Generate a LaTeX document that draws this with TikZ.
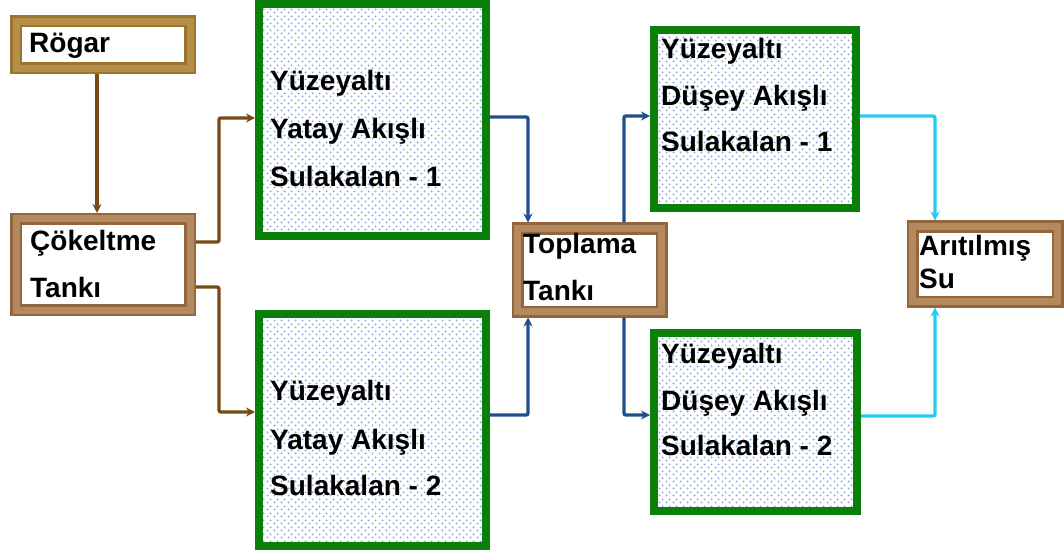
\documentclass[tikz,border=0pt]{standalone}
\usepackage{fontspec}
\setmainfont{Liberation Sans}
\usetikzlibrary{arrows.meta,patterns.meta}
\definecolor{goldb}{HTML}{B58E48}
\definecolor{goldd}{HTML}{9C7430}
\definecolor{tanb}{HTML}{B4895C}
\definecolor{tand}{HTML}{946640}
\definecolor{grn}{HTML}{0A800A}
\definecolor{dotc}{HTML}{86A8DA}
\definecolor{brc}{HTML}{7A4A14}
\definecolor{blc}{HTML}{1F4E8A}
\definecolor{cyc}{HTML}{22CCF5}
\tikzdeclarepattern{
  name=wdots,
  type=uncolored,
  bounding box={(0,0) and (7pt,7pt)},
  tile size={(7pt,7pt)},
  code={
    \pgfpathcircle{\pgfpoint{1.75pt}{1.75pt}}{1.15pt}
    \pgfpathcircle{\pgfpoint{5.25pt}{5.25pt}}{1.15pt}
    \pgfusepath{fill}
  }
}
\begin{document}
\begin{tikzpicture}[x=1pt,y=-1pt,
  brbox/.style={draw=tand, double=tanb, line width=2.5pt, double distance=7pt,
    fill=white, rectangle, inner sep=0pt, outer sep=6pt},
  gdbox/.style={brbox, draw=goldd, double=goldb},
  gnbox/.style={draw=grn, line width=8pt, preaction={fill=white}, pattern={wdots}, pattern color=dotc,
    rectangle, inner sep=0pt, outer sep=4pt},
  txt/.style={font=\bfseries\fontsize{28}{30}\selectfont, anchor=base west, inner sep=0pt},
  conn/.style={line width=3.4pt, rounded corners=2pt, -{Stealth[length=9pt,width=9pt]}},
  brc/.style={conn, draw=brc},
  blc/.style={conn, draw=blc},
  cyc/.style={conn, draw=cyc}]
\useasboundingbox (0,0) rectangle (1064,553);

% boxes
\node[gdbox, minimum width=174pt, minimum height=47pt] (rogar) at (103,45) {};
\node[brbox, minimum width=174pt, minimum height=91pt] (cokelt) at (103,264.5) {};
\node[brbox, minimum width=144pt, minimum height=83pt] (toplama) at (589.5,270) {};
\node[brbox, minimum width=145pt, minimum height=75pt] (arit) at (985,264) {};
\node[gnbox, minimum width=227pt, minimum height=231pt] (yat1) at (372.5,120) {};
\node[gnbox, minimum width=227pt, minimum height=232pt] (yat2) at (372.5,430) {};
\node[gnbox, minimum width=202pt, minimum height=178pt] (dus1) at (755,119) {};
\node[gnbox, minimum width=203pt, minimum height=178pt] (dus2) at (755.5,422) {};

% texts
\node[txt] (trogar) at (29,53) {Rögar};
\node[txt] (tcok1) at (30,250) {Çökeltme};
\node[txt] (tcok2) at (30,297) {Tankı};
\node[txt] (ttop1) at (523,253) {Toplama};
\node[txt] (ttop2) at (523,300) {Tankı};
\node[txt] (tar1) at (919,255) {Arıtılmış};
\node[txt] (tar2) at (919,288) {Su};
\node[txt] (ty11) at (270,91) {Yüzeyaltı};
\node[txt] (ty12) at (270,139) {Yatay Akışlı};
\node[txt] (ty13) at (270,187) {Sulakalan - 1};
\node[txt] (ty21) at (270,400) {Yüzeyaltı};
\node[txt] (ty22) at (270,449) {Yatay Akışlı};
\node[txt] (ty23) at (270,495) {Sulakalan - 2};
\node[txt] (td11) at (661,59) {Yüzeyaltı};
\node[txt] (td12) at (661,106) {Düşey Akışlı};
\node[txt] (td13) at (661,152) {Sulakalan - 1};
\node[txt] (td21) at (661,363) {Yüzeyaltı};
\node[txt] (td22) at (661,410) {Düşey Akışlı};
\node[txt] (td23) at (661,455) {Sulakalan - 2};

% bend points
\coordinate (b0) at (97,0);
\coordinate (b1) at (219,118);
\coordinate (b2) at (219,412);
\coordinate (b3) at (528,117);
\coordinate (b4) at (528,415);
\coordinate (b5) at (624,116);
\coordinate (b6) at (624,415);
\coordinate (b7) at (935,116);
\coordinate (b8) at (935,416);

% connectors
\draw[brc] (b0 |- rogar.south) -- (b0 |- cokelt.north);
\draw[brc] ([yshift=22.5pt]cokelt.east) -| (b1) -- (b1 -| yat1.west);
\draw[brc] ([yshift=-22.5pt]cokelt.east) -| (b2) -- (b2 -| yat2.west);
\draw[blc] (b3 -| yat1.east) -- (b3) -- (b3 |- toplama.north);
\draw[blc] (b4 -| yat2.east) -- (b4) -- (b4 |- toplama.south);
\draw[blc] (b5 |- toplama.north) -- (b5) -- (b5 -| dus1.west);
\draw[blc] (b6 |- toplama.south) -- (b6) -- (b6 -| dus2.west);
\draw[cyc] (b7 -| dus1.east) -- (b7) -- (b7 |- arit.north);
\draw[cyc] (b8 -| dus2.east) -- (b8) -- (b8 |- arit.south);
\end{tikzpicture}
\end{document}
